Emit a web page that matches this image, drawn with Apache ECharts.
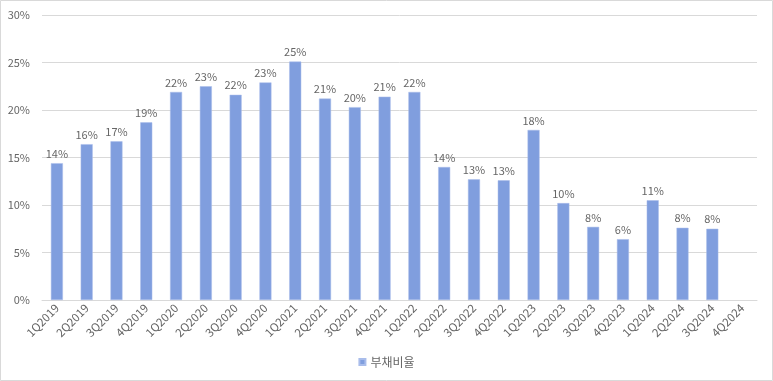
<!DOCTYPE html>
<html>
<head>
<meta charset="utf-8">
<script src="https://cdn.jsdelivr.net/npm/echarts@6/dist/echarts.min.js"></script>
<style>html,body{margin:0;padding:0;background:#fff}#c{width:773px;height:381px}</style>
</head>
<body>
<div id="c"></div>
<script>
const categories = ['1Q2019','2Q2019','3Q2019','4Q2019','1Q2020','2Q2020','3Q2020','4Q2020','1Q2021','2Q2021','3Q2021','4Q2021','1Q2022','2Q2022','3Q2022','4Q2022','1Q2023','2Q2023','3Q2023','4Q2023','1Q2024','2Q2024','3Q2024','4Q2024'];
const debtRatio = [14.4,16.4,16.7,18.7,21.9,22.5,21.6,22.9,25.1,21.2,20.3,21.4,21.9,14.0,12.7,12.6,17.9,10.2,7.7,6.4,10.5,7.6,7.5,null];
const seriesName = '부채비율';
const yTicks = [0,5,10,15,20,25,30];

const chart = echarts.init(document.getElementById('c'), null, {renderer:'canvas'});
const font = '"Noto Sans CJK KR", "Liberation Sans", sans-serif';
chart.setOption({
  animation:false,
  backgroundColor:'#fff',
  textStyle:{fontFamily:font},
  graphic:[{type:'rect',shape:{x:0.5,y:0.5,width:772,height:380},style:{fill:null,stroke:'#d9d9d9',lineWidth:1},silent:true}],
  grid:{left:42,right:16,top:15,bottom:81,containLabel:false},
  legend:{data:[{name:seriesName,icon:'rect'}],bottom:8,left:'center',itemWidth:6,itemHeight:6,itemGap:4,
    textStyle:{color:'#666666',fontSize:12,fontFamily:font}},
  xAxis:{type:'category',data:categories,
    axisLine:{lineStyle:{color:'#d9d9d9'}},axisTick:{show:false},
    axisLabel:{rotate:45,color:'#666666',fontSize:11.5,interval:0,margin:6,fontFamily:font}},
  yAxis:{type:'value',min:yTicks[0],max:yTicks[yTicks.length-1],interval:5,
    axisLine:{show:false},axisTick:{show:false},
    splitLine:{lineStyle:{color:'#d9d9d9'}},
    axisLabel:{formatter:v=>v+'%',color:'#666666',fontSize:11,margin:12,fontFamily:font}},
  series:[{name:seriesName,type:'bar',data:debtRatio,barWidth:12,
    itemStyle:{color:'#809ede',borderColor:'#a9bdeb',borderWidth:0.5},
    label:{show:true,position:'top',distance:4,color:'#666666',fontSize:11,fontFamily:font,
      formatter:p=>Math.round(p.value)+'%'}}]
});
</script>
</body>
</html>
